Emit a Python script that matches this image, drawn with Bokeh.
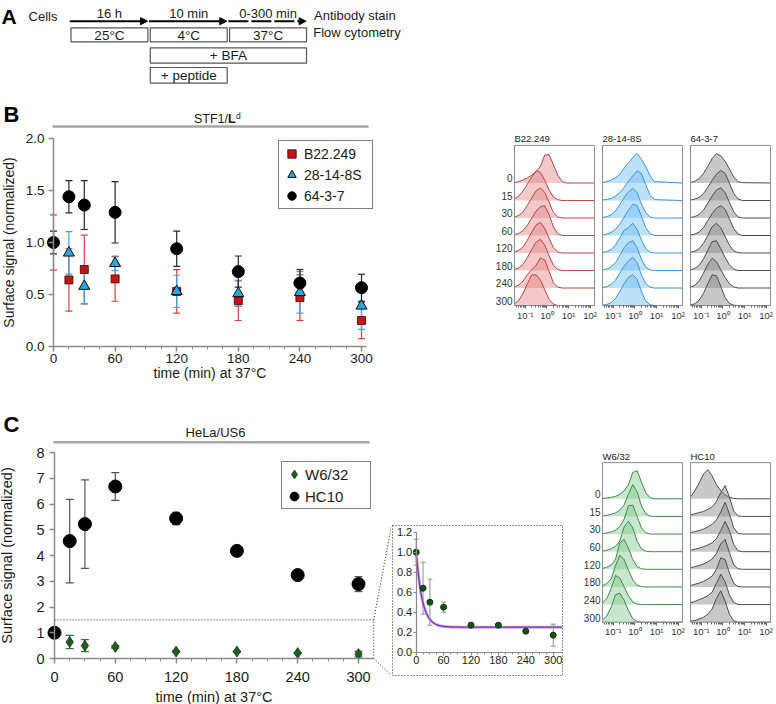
import numpy as np
from bokeh.plotting import figure
from bokeh.layouts import row, column
from bokeh.models import (ColumnDataSource, Range1d, LinearAxis, FixedTicker,
                          NumeralTickFormatter, Whisker, TeeHead, Legend, LegendItem,
                          Arrow, NormalHead, Spacer)
from bokeh.core.properties import value
from bokeh.embed import file_html
from bokeh.resources import INLINE

FONT = "Liberation Sans"
INK = "#1a1a1a"
AXIS_GRAY = "#8a8a8a"
DOTS = "1 2"

# ---------------- protocol (panel A) ----------------
stage_durations = ["16 h", "10 min", "0-300 min"]
stage_temps = ["25°C", "4°C", "37°C"]
additions = ["+ BFA", "+ peptide"]
addition_start = [1, 1]
addition_end = [3, 2]
readouts = ["Antibody stain", "Flow cytometry"]

# ---------------- time courses ----------------
times = [0, 15, 30, 60, 120, 180, 240, 300]
time_ticks = [0, 60, 120, 180, 240, 300]
time_minor = [15, 30, 45, 75, 90, 105, 135, 150, 165, 195, 210, 225, 255, 270, 285]

# STF1/Ld
b22_mean = [1.00, 0.64, 0.74, 0.65, 0.53, 0.44, 0.47, 0.25]
b22_sd = [0.265, 0.30, 0.33, 0.215, 0.21, 0.19, 0.22, 0.175]
s28_mean = [1.00, 0.90, 0.58, 0.80, 0.53, 0.51, 0.52, 0.39]
s28_sd = [0.05, 0.205, 0.17, 0.07, 0.155, 0.125, 0.20, 0.225]
a64_mean = [1.00, 1.44, 1.36, 1.29, 0.94, 0.72, 0.61, 0.565]
a64_sd = [0.11, 0.155, 0.235, 0.295, 0.17, 0.15, 0.13, 0.13]

# HeLa/US6
hc10_mean = [1.00, 4.56, 5.22, 6.68, 5.44, 4.18, 3.24, 2.89]
hc10_sd = [0.15, 1.62, 1.72, 0.54, 0.24, 0.08, 0.08, 0.29]
w632_mean = [1.00, 0.64, 0.50, 0.45, 0.27, 0.27, 0.21, 0.17]
w632_sd = [0.13, 0.26, 0.23, 0.05, 0.025, 0.02, 0.01, 0.11]

# one-phase decay fitted to W6/32
fit_plateau = 0.25
fit_span = 0.75
fit_k = 0.075

# ---------------- flow histograms ----------------
# heights (in row spacings) sampled at log10 fluorescence positions
hist_grid = [-1.5, -1.3, -1.1, -0.9, -0.7, -0.5, -0.3, -0.1, 0.1, 0.3, 0.5, 0.7, 0.9, 2.2]
hist_rows = ["0", "15", "30", "60", "120", "180", "240", "300"]

b22_hist = [
    [0.03, 0.08, 0.18, 0.30, 0.45, 0.65, 0.95, 1.60, 1.62, 1.05, 0.45, 0.08, 0.0, 0.0],
    [0.10, 0.25, 0.55, 0.95, 1.35, 1.70, 1.60, 1.15, 0.60, 0.20, 0.05, 0.0, 0.0, 0.0],
    [0.05, 0.15, 0.35, 0.75, 1.15, 1.55, 1.72, 1.45, 0.90, 0.30, 0.06, 0.0, 0.0, 0.0],
    [0.05, 0.12, 0.28, 0.60, 1.00, 1.40, 1.65, 1.70, 1.20, 0.50, 0.10, 0.0, 0.0, 0.0],
    [0.06, 0.15, 0.35, 0.75, 1.20, 1.60, 1.75, 1.40, 0.85, 0.30, 0.06, 0.0, 0.0, 0.0],
    [0.06, 0.15, 0.35, 0.75, 1.20, 1.62, 1.78, 1.45, 0.85, 0.30, 0.06, 0.0, 0.0, 0.0],
    [0.06, 0.18, 0.40, 0.78, 1.05, 1.30, 1.72, 1.60, 0.95, 0.30, 0.05, 0.0, 0.0, 0.0],
    [0.10, 0.30, 0.70, 1.25, 1.75, 1.75, 1.45, 0.90, 0.35, 0.08, 0.0, 0.0, 0.0, 0.0],
]
s28_hist = [
    [0.02, 0.08, 0.17, 0.30, 0.50, 0.85, 1.15, 1.45, 1.69, 1.35, 0.95, 0.40, 0.08, 0.0],
    [0.03, 0.06, 0.12, 0.25, 0.45, 0.75, 1.10, 1.40, 1.70, 1.55, 0.90, 0.30, 0.05, 0.0],
    [0.03, 0.08, 0.18, 0.40, 0.75, 1.15, 1.50, 1.70, 1.45, 0.80, 0.30, 0.06, 0.0, 0.0],
    [0.03, 0.08, 0.18, 0.35, 0.65, 1.05, 1.45, 1.78, 1.72, 1.10, 0.45, 0.10, 0.0, 0.0],
    [0.03, 0.08, 0.20, 0.45, 0.85, 1.30, 1.45, 1.70, 1.35, 0.75, 0.25, 0.05, 0.0, 0.0],
    [0.03, 0.08, 0.20, 0.45, 0.85, 1.30, 1.60, 1.70, 1.30, 0.65, 0.20, 0.04, 0.0, 0.0],
    [0.03, 0.08, 0.20, 0.45, 0.85, 1.25, 1.55, 1.75, 1.45, 0.75, 0.25, 0.05, 0.0, 0.0],
    [0.02, 0.06, 0.15, 0.40, 0.80, 1.25, 1.60, 1.76, 1.50, 0.80, 0.25, 0.05, 0.0, 0.0],
]
a64_hist = [
    [0.03, 0.10, 0.25, 0.55, 0.95, 1.40, 1.68, 1.55, 1.25, 0.80, 0.35, 0.08, 0.02, 0.0],
    [0.03, 0.08, 0.18, 0.40, 0.75, 1.15, 1.50, 1.72, 1.55, 1.00, 0.40, 0.08, 0.0, 0.0],
    [0.03, 0.08, 0.20, 0.45, 0.85, 1.25, 1.60, 1.72, 1.45, 0.90, 0.35, 0.06, 0.0, 0.0],
    [0.03, 0.08, 0.20, 0.45, 0.85, 1.25, 1.55, 1.70, 1.50, 0.95, 0.40, 0.08, 0.0, 0.0],
    [0.04, 0.10, 0.25, 0.55, 1.00, 1.50, 1.70, 1.45, 0.95, 0.45, 0.12, 0.02, 0.0, 0.0],
    [0.04, 0.12, 0.30, 0.65, 1.15, 1.65, 1.70, 1.25, 0.75, 0.32, 0.08, 0.0, 0.0, 0.0],
    [0.05, 0.15, 0.40, 0.85, 1.35, 1.70, 1.50, 1.05, 0.60, 0.25, 0.06, 0.0, 0.0, 0.0],
    [0.03, 0.10, 0.30, 0.70, 1.25, 1.75, 1.70, 1.10, 0.45, 0.12, 0.02, 0.0, 0.0, 0.0],
]
w632_hist = [
    [0.02, 0.04, 0.08, 0.14, 0.25, 0.45, 0.80, 1.50, 1.60, 0.95, 0.35, 0.06, 0.0, 0.0],
    [0.03, 0.06, 0.12, 0.20, 0.35, 0.65, 1.25, 1.80, 1.40, 0.60, 0.15, 0.02, 0.0, 0.0],
    [0.03, 0.06, 0.12, 0.22, 0.42, 0.85, 1.60, 1.65, 1.00, 0.35, 0.08, 0.0, 0.0, 0.0],
    [0.03, 0.08, 0.16, 0.30, 0.60, 1.40, 1.72, 1.35, 0.60, 0.15, 0.03, 0.0, 0.0, 0.0],
    [0.05, 0.12, 0.25, 0.55, 1.50, 1.70, 1.20, 0.55, 0.15, 0.03, 0.0, 0.0, 0.0, 0.0],
    [0.06, 0.20, 0.45, 1.20, 1.80, 1.55, 0.95, 0.40, 0.10, 0.02, 0.0, 0.0, 0.0, 0.0],
    [0.10, 0.35, 0.90, 1.65, 1.50, 1.00, 0.50, 0.15, 0.03, 0.0, 0.0, 0.0, 0.0, 0.0],
    [0.12, 0.35, 0.85, 1.55, 1.65, 1.25, 0.65, 0.20, 0.04, 0.0, 0.0, 0.0, 0.0, 0.0],
]
hc10_hist = [
    [0.10, 0.45, 0.90, 1.40, 1.65, 1.30, 0.80, 0.45, 0.22, 0.08, 0.02, 0.0, 0.0, 0.0],
    [0.08, 0.15, 0.22, 0.28, 0.40, 0.55, 0.85, 1.35, 1.75, 1.10, 0.30, 0.03, 0.0, 0.0],
    [0.08, 0.14, 0.20, 0.28, 0.40, 0.55, 0.80, 1.25, 1.80, 1.15, 0.35, 0.04, 0.0, 0.0],
    [0.08, 0.14, 0.20, 0.28, 0.38, 0.50, 0.75, 1.20, 1.72, 1.20, 0.40, 0.05, 0.0, 0.0],
    [0.08, 0.15, 0.22, 0.30, 0.42, 0.58, 0.90, 1.45, 1.70, 0.95, 0.25, 0.03, 0.0, 0.0],
    [0.08, 0.15, 0.22, 0.32, 0.45, 0.62, 1.00, 1.65, 1.55, 0.80, 0.20, 0.02, 0.0, 0.0],
    [0.10, 0.18, 0.28, 0.38, 0.50, 0.70, 1.20, 1.72, 1.30, 0.55, 0.12, 0.0, 0.0, 0.0],
    [0.05, 0.10, 0.18, 0.28, 0.45, 0.75, 1.35, 1.78, 1.20, 0.45, 0.08, 0.0, 0.0, 0.0],
]

HIST_LO, HIST_HI = -1.5, 2.2
HIST_PPX = 21.62


# ---------------- geometry helpers ----------------
class Frame:
    """A plot frame placed on the page; maps page pixels to data values."""

    def __init__(self, left, top, width, height, x_px, x_val, x_scale, y_px, y_val, y_scale):
        self.left, self.top, self.width, self.height = left, top, width, height
        self.x_px, self.x_val, self.x_scale = x_px, x_val, x_scale
        self.y_px, self.y_val, self.y_scale = y_px, y_val, y_scale

    def x(self, px):
        return self.x_val + (px - self.x_px) / self.x_scale

    def y(self, py):
        return self.y_val + (self.y_px - py) / self.y_scale

    def ranges(self):
        return (Range1d(self.x(self.left), self.x(self.left + self.width)),
                Range1d(self.y(self.top + self.height), self.y(self.top)))


def make_fig(fr, border=0):
    xr, yr = fr.ranges()
    p = figure(width=fr.width + 2 * border, height=fr.height + 2 * border,
               x_range=xr, y_range=yr, x_axis_type=None, y_axis_type=None,
               toolbar_location=None, output_backend="svg", min_border=border,
               outline_line_color=None)
    p.background_fill_color = "white"
    p.border_fill_color = "white"
    return p


def add_text(p, x, y, text, size, align="left", style="normal", color=INK):
    """Text centred vertically on y."""
    p.text(x=[x], y=[y], text=[text], text_font=value(FONT), text_font_size=size,
           text_align=align, text_baseline="middle", text_font_style=style,
           text_color=color)


def style_axis(ax, tick_size, title_size, label_standoff, title_standoff,
               tick_out=5, minor_out=3, line_w=1.5):
    ax.axis_line_color = AXIS_GRAY
    ax.axis_line_width = line_w
    ax.major_tick_line_color = AXIS_GRAY
    ax.major_tick_line_width = line_w
    ax.minor_tick_line_color = AXIS_GRAY
    ax.minor_tick_line_width = 1
    ax.major_tick_out = tick_out
    ax.major_tick_in = 0
    ax.minor_tick_out = minor_out
    ax.minor_tick_in = 0
    ax.major_label_text_font = FONT
    ax.major_label_text_font_size = tick_size
    ax.major_label_text_color = INK
    ax.major_label_standoff = label_standoff
    ax.axis_label_text_font = FONT
    ax.axis_label_text_font_size = title_size
    ax.axis_label_text_font_style = "normal"
    ax.axis_label_text_color = INK
    ax.axis_label_standoff = title_standoff


def error_bars(p, t, mean, sd, color, cap, width=1.2):
    src = ColumnDataSource(dict(t=t, lo=[m - s for m, s in zip(mean, sd)],
                                hi=[m + s for m, s in zip(mean, sd)]))
    p.add_layout(Whisker(source=src, base="t", lower="lo", upper="hi",
                         line_color=color, line_width=width, level="underlay",
                         lower_head=TeeHead(size=cap, line_color=color, line_width=width),
                         upper_head=TeeHead(size=cap, line_color=color, line_width=width)))


def make_legend(p, items, loc, glyph, pad, standoff, label_w, size):
    p.add_layout(Legend(
        items=[LegendItem(label=lab, renderers=[r]) for lab, r in items],
        location=loc, orientation="vertical", margin=0, padding=pad, spacing=0,
        glyph_width=glyph, glyph_height=glyph, label_standoff=standoff,
        label_width=label_w, label_height=glyph,
        label_text_font=FONT, label_text_font_size=size, label_text_color=INK,
        border_line_color="black", border_line_width=1.5,
        background_fill_color="white", background_fill_alpha=1.0))


def time_axes(p, ymax, yticks, yfmt, tick_size, title_size, x_std, x_title_std,
              y_std, y_title_std, x_end):
    xa = LinearAxis(fixed_location=0, bounds=(0, x_end),
                    ticker=FixedTicker(ticks=time_ticks, minor_ticks=time_minor),
                    axis_label="time (min) at 37°C")
    ya = LinearAxis(fixed_location=0, bounds=(0, ymax),
                    ticker=FixedTicker(ticks=yticks),
                    axis_label="Surface signal (normalized)")
    if yfmt:
        ya.formatter = NumeralTickFormatter(format=yfmt)
    style_axis(xa, tick_size, title_size, x_std, x_title_std)
    style_axis(ya, tick_size, title_size, y_std, y_title_std)
    p.add_layout(xa, "below")
    p.add_layout(ya, "left")


minor_log = [d + np.log10(k) for d in range(-2, 3) for k in range(2, 10)]
minor_log = [float(v) for v in minor_log if HIST_LO < v < HIST_HI]


def hist_panel(fr, name, curves, line_c, fill_c, box_top, row_labels):
    p = make_fig(fr)
    n = len(curves)
    for i, h in enumerate(curves):
        base = n - 1 - i
        ys = [base + v for v in h]
        p.varea(x=hist_grid, y1=[base] * len(hist_grid), y2=ys,
                fill_color=fill_c, fill_alpha=0.45)
        p.line(x=hist_grid, y=ys, line_color=line_c, line_width=1)
    p.quad(left=[HIST_LO], right=[HIST_HI], bottom=[0], top=[box_top],
           fill_color=None, line_color="#8c8c8c", line_width=1)
    add_text(p, HIST_LO, box_top + 0.37, name, "9.5px")
    if row_labels:
        for i, lab in enumerate(hist_rows):
            add_text(p, HIST_LO - 2.0 / HIST_PPX, n - 1 - i + 0.26, lab, "10px",
                     align="right", color="#333333")
    ax = LinearAxis(fixed_location=0, bounds=(HIST_LO, HIST_HI),
                    ticker=FixedTicker(ticks=[-1, 0, 1, 2], minor_ticks=minor_log),
                    major_label_overrides={-1: "10⁻¹", 0: "10⁰", 1: "10¹", 2: "10²"})
    style_axis(ax, "9.5px", "9px", 1, 0, tick_out=3, minor_out=2, line_w=1)
    ax.axis_line_color = None
    ax.major_tick_line_color = "#666666"
    ax.minor_tick_line_color = "#666666"
    ax.major_label_text_color = "#333333"
    p.add_layout(ax, "below")
    return p


# ================= panel A: protocol =================
frA = Frame(0, 0, 776, 88, 69.3, 0.0, 79.3, 0.0, 0.0, -1.0)
pA = make_fig(frA)
ARROW_Y = 20.7
add_text(pA, frA.x(1), 15.5, "A", "21px", style="bold", color="black")
add_text(pA, frA.x(57), 16.0, "Cells", "13px", align="right")
for i, lab in enumerate(stage_durations):
    pA.add_layout(Arrow(x_start=i, y_start=ARROW_Y, x_end=i + 0.98, y_end=ARROW_Y,
                        line_width=2, line_color="black",
                        line_dash="20 3" if i == len(stage_durations) - 1 else "solid",
                        end=NormalHead(size=7, fill_color="black", line_color="black")))
    add_text(pA, i + 0.5, 12.8, lab, "13px", align="center")
pA.quad(left=[i + 0.015 for i in range(len(stage_temps))],
        right=[i + 0.985 for i in range(len(stage_temps))],
        top=[27.3] * len(stage_temps), bottom=[41.3] * len(stage_temps),
        fill_color="white", line_color="#555555", line_width=1.2)
for i, lab in enumerate(stage_temps):
    add_text(pA, i + 0.5, 34.5, lab, "13.5px", align="center")
add_rows = [(47.3, 62.7), (67.0, 82.7)]
for lab, s, e, (t0, t1) in zip(additions, addition_start, addition_end, add_rows):
    pA.quad(left=[s + 0.015], right=[e - 0.015], top=[t0], bottom=[t1],
            fill_color="white", line_color="#555555", line_width=1.2)
    add_text(pA, (s + e) / 2, (t0 + t1) / 2 + 0.3, lab, "13.5px", align="center")
add_text(pA, len(stage_durations) + 0.08, 14.5, readouts[0], "13px")
add_text(pA, len(stage_durations) + 0.07, 31.5, readouts[1], "13px")

# ================= panel B: STF1/Ld time course =================
frB = Frame(0, 88, 450, 312, 53, 0.0, 1.02667, 346, 0.0, 104.0)
pB = make_fig(frB)
add_text(pB, frB.x(3), frB.y(113.5), "B", "22px", style="bold", color="black")
pB.segment(x0=[frB.x(52)], y0=[frB.y(126)], x1=[frB.x(368)], y1=[frB.y(126)],
           line_color="#a6a6a6", line_width=2.5)
add_text(pB, frB.x(227.5), frB.y(118.5), "STF1/", "12.5px", align="right")
add_text(pB, frB.x(227.5), frB.y(118.5), "L", "12.5px", style="bold")
add_text(pB, frB.x(235.5), frB.y(115.5), "d", "8.5px")

time_axes(pB, 2.0, [0, 0.5, 1.0, 1.5, 2.0], "0.0", "13.5px", "14px",
          2, -1, 4, 6, 305)

error_bars(pB, times, b22_mean, b22_sd, "#d9403a", 7)
error_bars(pB, times, s28_mean, s28_sd, "#3aa2e8", 7)
error_bars(pB, times, a64_mean, a64_sd, "#262626", 7)
r_b22 = pB.scatter(times, b22_mean, marker="square", size=8, fill_color="#c81414",
                   line_color="#3a0000", line_width=0.8)
r_s28 = pB.scatter(times, s28_mean, marker="triangle", size=11, fill_color="#2aa7e3",
                   line_color="#0a0a0a", line_width=1)
r_a64 = pB.scatter(times, a64_mean, marker="circle", size=12, fill_color="black",
                   line_color="black")
make_legend(pB, [("B22.249", r_b22), ("28-14-8S", r_s28), ("64-3-7", r_a64)],
            (278, 400 - 209), 21, 2, 2, 66, "14px")

# ================= panel B: histograms =================
B_HIST_TOP = 9.15
hB1 = hist_panel(Frame(450, 88, 148, 312, 514, HIST_LO, HIST_PPX, 305, 0, 17.5),
                 "B22.249", b22_hist, "#b94545", "#e28585", B_HIST_TOP, True)
hB2 = hist_panel(Frame(598, 88, 88, 312, 602, HIST_LO, HIST_PPX, 305, 0, 17.5),
                 "28-14-8S", s28_hist, "#3a94d8", "#6fbcf4", B_HIST_TOP, False)
hB3 = hist_panel(Frame(686, 88, 90, 312, 690, HIST_LO, HIST_PPX, 305, 0, 17.5),
                 "64-3-7", a64_hist, "#4d4d4d", "#858585", B_HIST_TOP, False)

# ================= panel C: HeLa/US6 time course =================
frC = Frame(0, 400, 391, 304, 54, 0.0, 1.01333, 658, 0.0, 25.75)
pC = make_fig(frC)
add_text(pC, frC.x(3), frC.y(424), "C", "22px", style="bold", color="black")
pC.segment(x0=[frC.x(53)], y0=[frC.y(441.7)], x1=[frC.x(369)], y1=[frC.y(441.7)],
           line_color="#a6a6a6", line_width=2.5)
add_text(pC, frC.x(215), frC.y(432), "HeLa/US6", "13px", align="center")

time_axes(pC, 8, list(range(9)), None, "14.5px", "14.5px", 8, 4, 5, 18, 315)

# zoomed region and its connectors to the inset
ZOOM_T, ZOOM_Y = 315, 1.5
pC.quad(left=[0], right=[ZOOM_T], bottom=[0], top=[ZOOM_Y], fill_color=None,
        line_color="#222222", line_width=1, line_dash=DOTS)
pC.segment(x0=[ZOOM_T, ZOOM_T], y0=[ZOOM_Y, 0], x1=[frC.x(391), frC.x(391)],
           y1=[frC.y(525), frC.y(675)], line_color="#222222", line_width=1,
           line_dash=DOTS)

error_bars(pC, times, w632_mean, w632_sd, "#2e7b34", 8)
error_bars(pC, times, hc10_mean, hc10_sd, "#555555", 8)
r_w632 = pC.scatter(times, w632_mean, marker="diamond", size=11, fill_color="#1f5d1f",
                    line_color="#123812", line_width=0.8)
r_hc10 = pC.scatter(times, hc10_mean, marker="circle", size=13, fill_color="black",
                    line_color="black")
make_legend(pC, [("W6/32", r_w632), ("HC10", r_hc10)], (281, 704 - 509),
            22, 1, 0, 64, "15px")

# ================= panel C: inset with decay fit =================
frI = Frame(392, 525, 170, 150, 415.7, 0.0, 0.4567, 651.7, 0.0, 100.0)
pI = make_fig(frI, border=1)
pI.outline_line_color = "#222222"
pI.outline_line_width = 1
pI.outline_line_dash = DOTS
ix = LinearAxis(fixed_location=0, bounds=(0, 320),
                ticker=FixedTicker(ticks=time_ticks, minor_ticks=time_minor))
iy = LinearAxis(fixed_location=0, bounds=(0, 1.2),
                ticker=FixedTicker(ticks=[0, 0.2, 0.4, 0.6, 0.8, 1.0, 1.2]),
                formatter=NumeralTickFormatter(format="0.0"))
style_axis(ix, "11px", "11px", 1, 0, tick_out=3, minor_out=2, line_w=1.2)
style_axis(iy, "11px", "11px", 1, 0, tick_out=3, minor_out=2, line_w=1.2)
pI.add_layout(ix, "below")
pI.add_layout(iy, "left")
t_fit = np.linspace(0, 320, 321)
y_fit = fit_plateau + fit_span * np.exp(-fit_k * t_fit)
pI.line(t_fit, y_fit, line_color="#cfa8ea", line_width=3)
pI.line(t_fit, y_fit, line_color="#7e2fb5", line_width=1.3)
error_bars(pI, times, w632_mean, w632_sd, "#7d9d7d", 5, width=1)
pI.scatter(times, w632_mean, marker="circle", size=6, fill_color="#145214",
           line_color="#0d3a0d")

# ================= panel C: histograms =================
C_HIST_TOP = 9.05
hC1 = hist_panel(Frame(563, 400, 123, 304, 602, HIST_LO, HIST_PPX, 621.7, 0, 17.63),
                 "W6/32", w632_hist, "#3c8a4c", "#85c790", C_HIST_TOP, True)
hC2 = hist_panel(Frame(686, 400, 90, 304, 690, HIST_LO, HIST_PPX, 621.7, 0, 17.63),
                 "HC10", hc10_hist, "#4d4d4d", "#858585", C_HIST_TOP, False)

page = column(
    pA,
    row(pB, hB1, hB2, hB3),
    row(pC, column(Spacer(width=172, height=124), pI, Spacer(width=172, height=28)),
        hC1, hC2),
)

open("out.html", "w").write(file_html(page, INLINE))
